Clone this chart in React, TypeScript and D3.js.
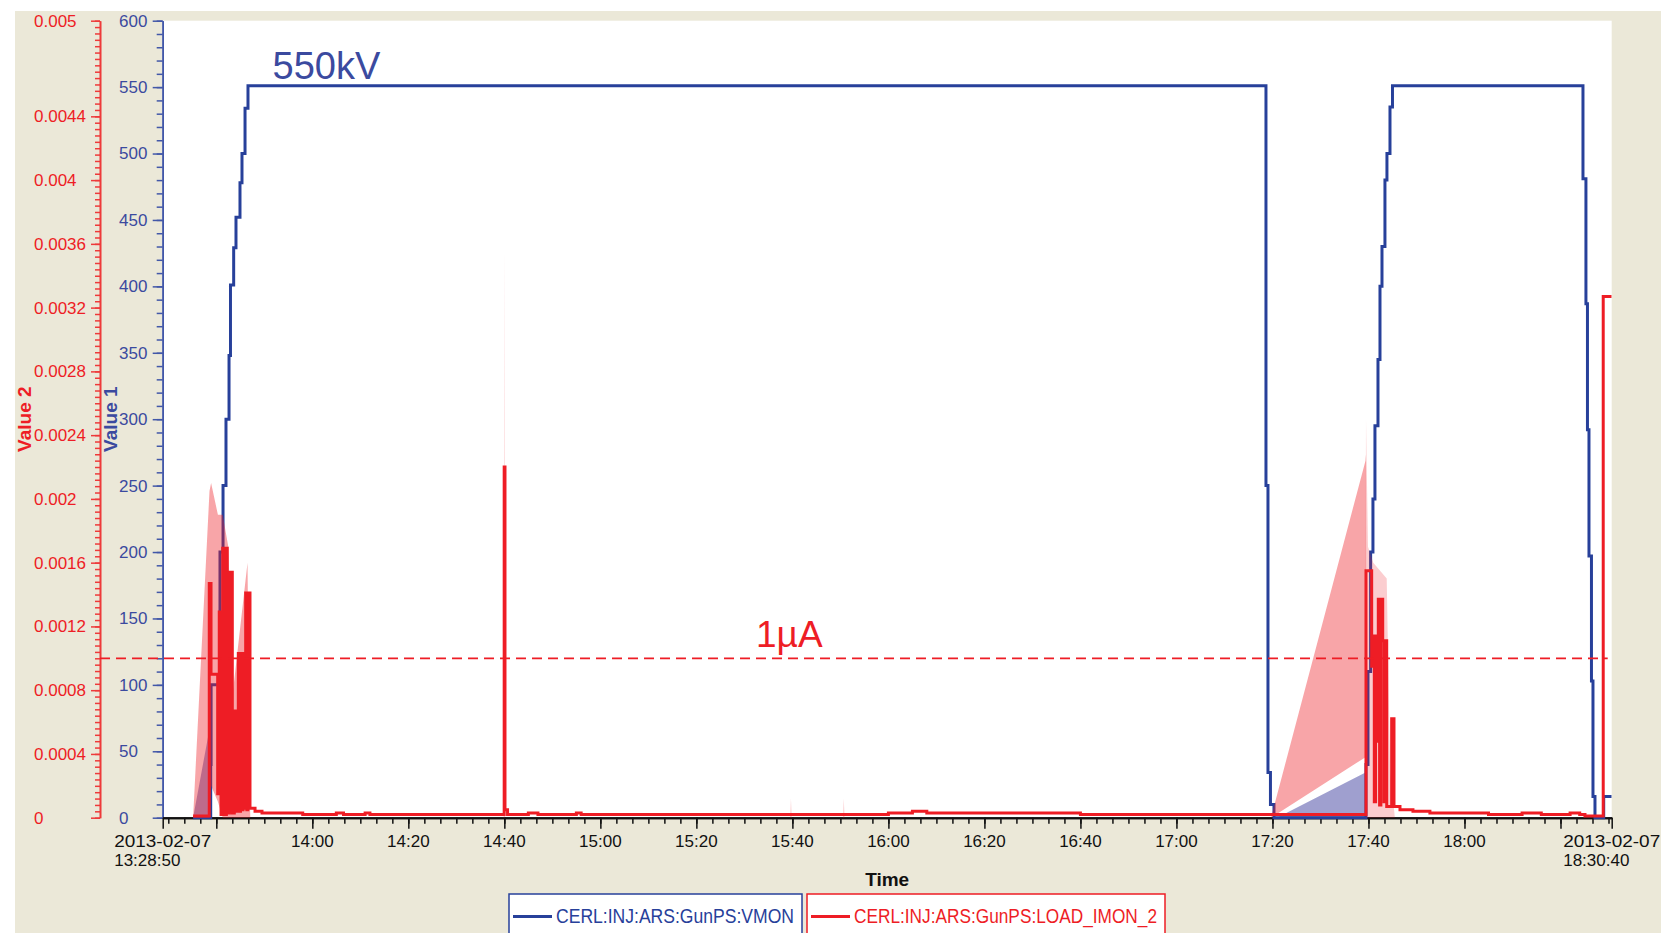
import React, { useEffect, useRef } from 'react';
import * as d3 from 'd3';

// archive viewer export: gun voltage (VMON) and load current (LOAD_IMON_2), 2013-02-07
const DAY = '2013-02-07';
const START = '13:28:50';
const END = '18:30:40';

const vmonTimes = [
  '13:35:10', '13:38:50', '13:38:55', '13:40:46', '13:41:24', '13:42:01', '13:42:39', '13:42:57',
  '13:43:37', '13:44:06', '13:44:56', '13:45:21', '13:45:59', '13:46:36',
  '17:18:39', '17:19:04', '17:19:35', '17:20:19',
  '17:39:29', '17:39:54', '17:40:27', '17:40:56', '17:41:21', '17:41:59', '17:42:24', '17:42:49',
  '17:43:26', '17:43:51', '17:44:29', '17:45:00',
  '18:24:41', '18:25:18', '18:25:37', '18:25:56', '18:26:27', '18:26:46', '18:27:11', '18:29:00', '18:30:40',
];
const vmonValues = [
  0, 40, 100, 200, 250, 300, 348, 401,
  429, 452, 478, 500, 534, 551,
  250, 34, 10, 0,
  40, 110, 200, 240, 295, 345, 400, 430,
  480, 500, 535, 551,
  481, 387, 292, 197, 103, 16, 0, 16, 16,
];

const imonTimes = [
  '13:35:10', '13:38:32', '13:38:54', '13:40:17', '13:40:37', '13:40:59', '13:41:20', '13:41:34',
  '13:41:44', '13:41:55', '13:42:06', '13:42:17', '13:42:30', '13:42:42', '13:42:55', '13:43:07',
  '13:43:20', '13:43:45', '13:44:00', '13:44:12', '13:44:25', '13:44:35', '13:44:50', '13:45:02',
  '13:45:19', '13:45:34', '13:45:52', '13:46:07', '13:46:21', '13:46:34', '13:47:01', '13:48:04',
  '13:49:31', '13:52:13', '13:58:00', '14:05:00', '14:06:30', '14:11:00', '14:12:00', '14:20:00',
  '14:39:58', '14:40:08', '14:40:40', '14:45:00', '14:47:00', '14:55:00', '14:56:00', '16:00:00',
  '16:05:00', '16:08:00', '16:40:00', '17:00:00',
  '17:39:29', '17:40:40', '17:40:56', '17:41:13', '17:41:29', '17:41:45', '17:42:03', '17:42:19',
  '17:42:35', '17:42:58', '17:43:14', '17:43:30', '17:43:48', '17:44:50', '17:45:19', '17:46:34',
  '17:49:16', '17:52:48', '18:05:00', '18:12:00', '18:16:00', '18:22:00', '18:24:00', '18:25:06',
  '18:28:54', '18:30:40',
];
const imonValues = [
  0.00001, 0.00147, 0.0009, 0.00015, 0.00129, 0.00002, 0.00169, 0.00003,
  0.00169, 0.00002, 0.00169, 0.00154, 0.00003, 0.00154, 0.00004, 0.00154,
  0.00003, 0.00067, 0.00004, 0.00067, 0.00005, 0.00103, 0.00004, 0.00103,
  0.00005, 0.00103, 0.00006, 0.00141, 0.00005, 0.00141, 0.00006, 0.00004,
  0.00003, 0.00003, 0.00002, 0.00003, 0.00002, 0.00003, 0.00002, 0.00002,
  0.0022, 0.00005, 0.00002, 0.00003, 0.00002, 0.00003, 0.00002, 0.00003,
  0.00004, 0.00003, 0.00002, 0.00002,
  0.00155, 0.00095, 0.00114, 0.0001, 0.00114, 0.00048, 0.00137, 0.00008,
  0.00137, 0.00111, 0.0001, 0.00111, 0.00007, 0.00062, 0.00007, 0.00005,
  0.00004, 0.00003, 0.00002, 0.00003, 0.00002, 0.00003, 0.00002, 0.00001,
  0.00327, 0.00327,
];

// min/max envelope shading drawn by the viewer between samples
const imonBandTimes = [
  '13:35:10', '13:38:35', '13:38:55', '13:40:20', '13:41:20', '13:42:30', '13:43:30', '13:46:30',
  '13:47:00', '13:47:05',
  '17:19:42', '17:39:23', '17:39:29', '17:39:35',
];
const imonBandMin = [
  0, 0, 0.0002, 0.0001, 0, 0, 0, 0,
  0, 0,
  0, 0.00038, 0.0004, 0,
];
const imonBandMax = [
  0, 0.00205, 0.0021, 0.0019, 0.0019, 0.0017, 0.0008, 0.0016,
  0.0001, 0,
  0, 0.00224, 0.00228, 0,
];

// faint streaks of the envelope
const imonFaintTimes = [
  '14:39:50', '14:40:00', '14:40:10',
  '15:39:32', '15:39:42', '15:39:52',
  '15:50:32', '15:50:42', '15:50:52',
  '17:39:20', '17:39:29', '17:39:54', '17:41:00', '17:43:48', '17:44:30', '17:45:30',
];
const imonFaintMax = [
  0, 0.0036, 0,
  0, 0.00012, 0,
  0, 0.00012, 0,
  0, 0.0025, 0.0017, 0.0016, 0.0015, 0.0003, 0,
];

const vmonBandTimes = ['13:35:10', '13:38:54', '13:38:55', '17:20:57', '17:39:23', '17:39:29'];
const vmonBandMax = [0, 73, 0, 0, 34, 0];

const value1Ticks = [0, 50, 100, 150, 200, 250, 300, 350, 400, 450, 500, 550, 600];
const value2Ticks = [0, 0.0004, 0.0008, 0.0012, 0.0016, 0.002, 0.0024, 0.0028, 0.0032, 0.0036, 0.004, 0.0044, 0.005];
const value2Labels = ['0', '0.0004', '0.0008', '0.0012', '0.0016', '0.002', '0.0024', '0.0028', '0.0032', '0.0036', '0.004', '0.0044', '0.005'];
const timeLabels = ['14:00', '14:20', '14:40', '15:00', '15:20', '15:40', '16:00', '16:20', '16:40', '17:00', '17:20', '17:40', '18:00'];
const timeMajorUnlabeled = ['13:40:00', '18:20:00'];
const currentLimit = 0.001;

const W = 1661;
const H = 933;
const plot = { left: 162.7, right: 1611.7, top: 20.7, bottom: 817.7 };

const BLUE = '#27409a';
const BLUE_TEXT = '#3b4a9f';
const RED = '#ee1d25';
const BEIGE = '#ebe8d8';
const FONT = '"Liberation Sans", Arial, sans-serif';

type Pt = { t: Date; v: number };
type Band = { t: Date; lo: number; hi: number };

function App() {
  const svgRef = useRef<SVGSVGElement>(null);

  useEffect(() => {
    const svg = d3.select(svgRef.current);
    svg.selectAll('*').remove();

    const parse = d3.timeParse('%Y-%m-%d %H:%M:%S');
    const tp = (s: string) => parse(`${DAY} ${s.length === 5 ? s + ':00' : s}`) as Date;

    const x = d3.scaleTime().domain([tp(START), tp(END)]).range([plot.left, plot.right]);
    const y1 = d3.scaleLinear().domain([0, 600]).range([plot.bottom, plot.top]);
    const y2 = d3.scaleLinear().domain([0, 0.005]).range([plot.bottom, plot.top]);

    // backgrounds
    svg.append('rect').attr('width', W).attr('height', H).attr('fill', '#fff');
    svg.append('rect').attr('x', 15).attr('y', 11).attr('width', W - 15).attr('height', H - 11).attr('fill', BEIGE);
    svg.append('rect')
      .attr('x', plot.left).attr('y', plot.top)
      .attr('width', plot.right - plot.left).attr('height', plot.bottom - plot.top)
      .attr('fill', '#fff');

    svg.append('defs').append('clipPath').attr('id', 'plotClip')
      .append('rect')
      .attr('x', plot.left).attr('y', plot.top)
      .attr('width', plot.right - plot.left).attr('height', plot.bottom - plot.top + 2);

    // axes
    const blueAxis = svg.append('g').attr('transform', `translate(${plot.left},0)`).attr('color', '#4257a8');
    blueAxis.call(d3.axisLeft(y1).tickValues(d3.range(0, 601, 10)).tickSize(6).tickSizeOuter(0).tickFormat(() => ''));
    blueAxis.append('g').call(d3.axisLeft(y1).tickValues(value1Ticks).tickSize(10).tickSizeOuter(0).tickFormat(() => ''));
    blueAxis.selectAll('line').attr('stroke-width', 1.5);
    blueAxis.selectAll('path').attr('stroke-width', 1.6);

    const redAxis = svg.append('g').attr('transform', 'translate(100,0)').attr('color', '#ee3a3a');
    redAxis.call(d3.axisLeft(y2).tickValues(d3.range(0, 126).map((i) => i * 0.00004)).tickSize(5).tickSizeOuter(0).tickFormat(() => ''));
    redAxis.append('g').call(d3.axisLeft(y2).tickValues(value2Ticks).tickSize(9).tickSizeOuter(0).tickFormat(() => ''));
    redAxis.selectAll('line').attr('stroke-width', 1.5);
    redAxis.selectAll('path').attr('stroke-width', 1.6);

    svg.append('g').selectAll('text').data(value1Ticks).join('text')
      .attr('x', 119).attr('y', (d) => y1(d)).attr('dy', '0.35em')
      .attr('font-family', FONT).attr('font-size', 17).attr('fill', BLUE_TEXT)
      .text((d) => String(d));

    svg.append('g').selectAll('text').data(value2Ticks).join('text')
      .attr('x', 34).attr('y', (d) => y2(d)).attr('dy', '0.35em')
      .attr('font-family', FONT).attr('font-size', 17).attr('fill', RED)
      .text((d, i) => value2Labels[i]);

    svg.append('text')
      .attr('transform', `translate(31,${(plot.top + plot.bottom) / 2}) rotate(-90)`)
      .attr('text-anchor', 'middle')
      .attr('font-family', FONT).attr('font-size', 19).attr('font-weight', 'bold').attr('fill', RED)
      .text('Value 2');
    svg.append('text')
      .attr('transform', `translate(117,${(plot.top + plot.bottom) / 2}) rotate(-90)`)
      .attr('text-anchor', 'middle')
      .attr('font-family', FONT).attr('font-size', 19).attr('font-weight', 'bold').attr('fill', BLUE_TEXT)
      .text('Value 1');

    // time axis: minor ticks every 200 s aligned on 14:00
    const t0 = tp(START).getTime();
    const t1 = tp(END).getTime();
    const anchor = tp('14:00').getTime();
    const minor: Date[] = [];
    for (let k = Math.ceil((t0 - anchor) / 200000); anchor + k * 200000 <= t1; k++) {
      minor.push(new Date(anchor + k * 200000));
    }
    const major = [tp(START), ...timeMajorUnlabeled.map(tp), ...timeLabels.map(tp), tp(END)];

    const xAxis = svg.append('g').attr('transform', `translate(0,${plot.bottom})`).attr('color', '#111');
    xAxis.call(d3.axisBottom(x).tickValues(minor).tickSize(6).tickSizeOuter(0).tickFormat(() => ''));
    xAxis.append('g').call(d3.axisBottom(x).tickValues(major).tickSize(11).tickSizeOuter(0).tickFormat(() => ''));
    xAxis.selectAll('line').attr('stroke-width', 1.5);
    xAxis.selectAll('path').attr('stroke-width', 2);

    svg.append('g').selectAll('text').data(timeLabels).join('text')
      .attr('x', (d) => x(tp(d))).attr('y', 846.5)
      .attr('text-anchor', 'middle')
      .attr('font-family', FONT).attr('font-size', 17).attr('fill', '#111')
      .text((d) => d);

    [START, END].forEach((s) => {
      const cx = x(tp(s));
      const g = svg.append('g').attr('font-family', FONT).attr('font-size', 17).attr('fill', '#111');
      g.append('text').attr('x', cx - 48.5).attr('y', 846.5)
        .attr('textLength', 97).attr('lengthAdjust', 'spacingAndGlyphs').text(DAY);
      g.append('text').attr('x', cx - 48.5).attr('y', 866).text(s);
    });

    svg.append('text')
      .attr('x', (plot.left + plot.right) / 2).attr('y', 886)
      .attr('text-anchor', 'middle')
      .attr('font-family', FONT).attr('font-size', 19).attr('font-weight', 'bold').attr('fill', '#111')
      .text('Time');

    // series
    const vmon: Pt[] = vmonTimes.map((s, i) => ({ t: tp(s), v: vmonValues[i] }));
    const imon: Pt[] = imonTimes.map((s, i) => ({ t: tp(s), v: imonValues[i] }));
    const imonBand: Band[] = imonBandTimes.map((s, i) => ({ t: tp(s), lo: imonBandMin[i], hi: imonBandMax[i] }));
    const imonFaint: Band[] = imonFaintTimes.map((s, i) => ({ t: tp(s), lo: 0, hi: imonFaintMax[i] }));
    const vmonBand: Band[] = vmonBandTimes.map((s, i) => ({ t: tp(s), lo: 0, hi: vmonBandMax[i] }));

    const data = svg.append('g').attr('clip-path', 'url(#plotClip)');

    const area1 = d3.area<Band>().x((d) => x(d.t)).y0((d) => y1(d.lo)).y1((d) => y1(d.hi));
    const area2 = d3.area<Band>().x((d) => x(d.t)).y0((d) => y2(d.lo)).y1((d) => y2(d.hi));

    data.append('path').datum(vmonBand).attr('d', area1).attr('fill', '#4040a0').attr('fill-opacity', 0.5);

    const line1 = d3.line<Pt>().x((d) => x(d.t)).y((d) => y1(d.v)).curve(d3.curveStepAfter);
    const line2 = d3.line<Pt>().x((d) => x(d.t)).y((d) => y2(d.v)).curve(d3.curveStepAfter);

    data.append('path').datum(vmon).attr('d', line1)
      .attr('fill', 'none').attr('stroke', BLUE).attr('stroke-width', 3);

    data.append('path').datum(imonFaint).attr('d', area2).attr('fill', RED).attr('fill-opacity', 0.22);
    data.append('path').datum(imonBand).attr('d', area2).attr('fill', RED).attr('fill-opacity', 0.4);

    data.append('path').datum(imon).attr('d', line2)
      .attr('fill', 'none').attr('stroke', RED).attr('stroke-width', 3);

    // 1 µA reference level
    svg.append('line')
      .attr('x1', 100).attr('x2', plot.right - 4)
      .attr('y1', y2(currentLimit)).attr('y2', y2(currentLimit))
      .attr('stroke', RED).attr('stroke-width', 1.8).attr('stroke-dasharray', '10,6');

    svg.append('text').attr('x', 272.5).attr('y', 79)
      .attr('font-family', FONT).attr('font-size', 38).attr('fill', BLUE_TEXT)
      .text('550kV');
    svg.append('text').attr('x', 756).attr('y', 647)
      .attr('font-family', FONT).attr('font-size', 37).attr('fill', RED)
      .text('1µA');

    // legend
    const legend = [
      { name: 'CERL:INJ:ARS:GunPS:VMON', color: BLUE, x0: 509, x1: 802, len: 238 },
      { name: 'CERL:INJ:ARS:GunPS:LOAD_IMON_2', color: RED, x0: 807, x1: 1165, len: 303 },
    ];
    const lg = svg.append('g').selectAll('g').data(legend).join('g');
    lg.append('rect')
      .attr('x', (d) => d.x0).attr('y', 894)
      .attr('width', (d) => d.x1 - d.x0).attr('height', 60)
      .attr('fill', '#fff').attr('stroke', (d) => d.color).attr('stroke-width', 1.5);
    lg.append('line')
      .attr('x1', (d) => d.x0 + 4).attr('x2', (d) => d.x0 + 43)
      .attr('y1', 916.5).attr('y2', 916.5)
      .attr('stroke', (d) => d.color).attr('stroke-width', 3);
    lg.append('text')
      .attr('x', (d) => d.x0 + 47).attr('y', 923)
      .attr('font-family', FONT).attr('font-size', 20).attr('fill', (d) => d.color)
      .attr('textLength', (d) => d.len).attr('lengthAdjust', 'spacingAndGlyphs')
      .text((d) => d.name);
  }, []);

  return (
    <svg
      ref={svgRef}
      width={W}
      height={H}
      style={{ position: 'absolute', left: 0, top: 0, display: 'block' }}
    />
  );
}

export default App;
